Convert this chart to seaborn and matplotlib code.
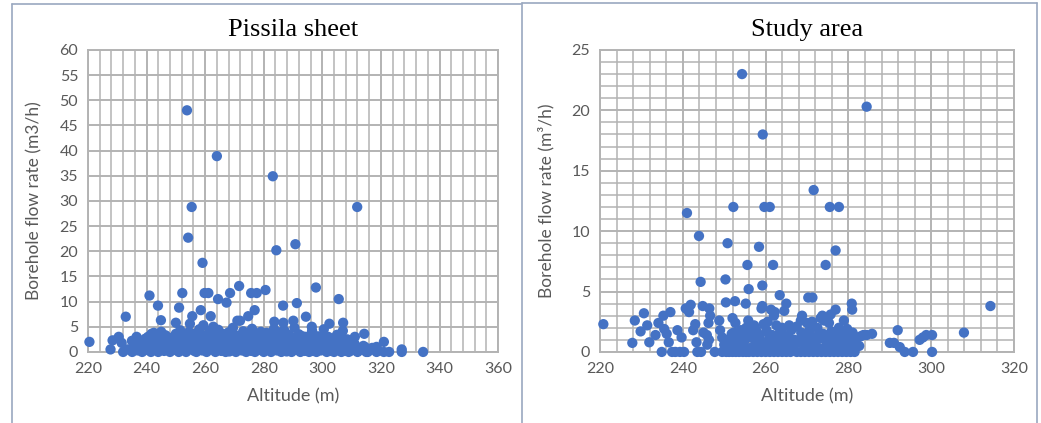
import numpy as np
import pandas as pd
import matplotlib
matplotlib.use("Agg")
import matplotlib.pyplot as plt
from matplotlib.lines import Line2D
from matplotlib.ticker import MultipleLocator
import seaborn as sns

sns.set_theme(style="white")
plt.rcParams['font.family'] = ['Lato', 'DejaVu Sans']

# ----------------------------
# Data: Pissila sheet (altitude m, flow rate m3/h)
# ----------------------------
pis_outlier_x = [253.8, 264.0, 283.1, 255.4, 311.9, 254.2, 290.8, 284.3, 259.1, 271.6,
                 297.8, 280.6, 252.2, 259.8, 261.1, 268.5, 275.7, 277.6, 241.0, 305.6,
                 264.4, 267.3, 291.3, 243.9, 286.6, 251.1, 258.5, 276.9, 232.9, 255.6,
                 261.9, 274.7, 294.4, 244.9, 271.0, 271.9, 290.1, 250.0, 283.6, 286.7,
                 307.1, 302.4, 296.4, 254.8, 259.4, 262.8, 314.3, 311.1, 321.0, 327.1,
                 327.1, 334.4, 322.8, 321.0, 318.5, 318.5, 314.5, 315.5, 220.5, 227.7,
                 228.4, 230.5, 232.0, 235.1, 236.6, 235.0, 238.5, 241.7, 231.5, 233.5]
pis_outlier_y = [48.0, 38.9, 34.9, 28.8, 28.8, 22.7, 21.4, 20.2, 17.7, 13.1,
                 12.8, 12.3, 11.7, 11.7, 11.7, 11.7, 11.7, 11.7, 11.2, 10.5,
                 10.5, 9.8, 9.7, 9.2, 9.2, 8.8, 8.3, 8.3, 7.0, 7.1,
                 7.1, 7.1, 7.0, 6.3, 6.2, 6.2, 6.2, 5.8, 6.0, 5.8,
                 5.8, 5.6, 5.0, 5.6, 5.3, 5.0, 3.6, 3.0, 2.0, 0.5,
                 0.0, 0.0, 0.0, 0.0, 0.0, 1.0, 1.0, 0.0, 2.0, 0.5,
                 2.3, 3.0, 0.0, 0.0, 3.0, 2.2, 1.0, 3.6, 1.8, 0.5]

pis_cluster_x = [236, 237, 237.5, 238, 238.5, 239, 239.5, 240, 240.5, 241, 241.5, 242, 242.5,
                 243, 243.5, 244, 244.5, 245, 245.5, 246, 246.5, 247, 247.5, 248, 248.5, 249,
                 249.5, 250, 250.5, 251, 251.5, 252, 252.5, 253, 253.5, 254, 254.5, 255, 255.5,
                 256, 256.5, 257, 257.5, 258, 258.5, 259, 259.5, 260, 260.5, 261, 261.5, 262,
                 262.5, 263, 263.5, 264, 264.5, 265, 265.5, 266, 266.5, 267, 267.5, 268, 268.5,
                 269, 269.5, 270, 270.5, 271, 271.5, 272, 272.5, 273, 273.5, 274, 274.5, 275,
                 275.5, 276, 276.5, 277, 277.5, 278, 278.5, 279, 279.5, 280, 280.5, 281, 281.5,
                 282, 282.5, 283, 283.5, 284, 284.5, 285, 285.5, 286, 286.5, 287, 287.5, 288,
                 288.5, 289, 289.5, 290, 290.5, 291, 291.5, 292, 292.5, 293, 293.5, 294, 294.5,
                 295, 295.5, 296, 296.5, 297, 297.5, 298, 298.5, 299, 299.5, 300, 300.5, 301,
                 301.5, 302, 302.5, 303, 303.5, 304, 304.5, 305, 305.5, 306, 306.5, 307, 307.5,
                 308, 308.5, 309, 309.5, 310, 311, 312, 313, 314, 315, 316, 317, 319,
                 248.7, 250.2, 251.8, 253.3, 254.8, 256.3, 257.8, 259.2, 260.8, 262.3, 263.8,
                 265.2, 266.8, 268.3, 269.8, 271.2, 272.8, 274.3, 275.8, 277.2, 278.8, 280.3,
                 281.8, 283.2, 284.8, 286.2, 287.8, 289.2, 290.8, 292.2, 293.8, 295.2, 296.8,
                 298.2, 299.8, 301.2, 302.8, 304.2, 305.8, 307.2,
                 240.2, 242.8, 245.3, 247.2, 249.7, 251.4, 253.9, 256.6, 258.9, 261.4, 263.6,
                 266.1, 268.7, 270.9, 273.2, 275.4, 277.9, 280.7, 282.9, 285.4, 287.6, 290.3,
                 292.7, 295.8, 297.4, 300.1, 302.2, 304.7, 306.9, 309.2,
                 244.1, 246.8, 249.2, 252.6, 255.2, 257.4, 260.1, 262.8, 265.6, 267.9, 270.3,
                 272.2, 274.8, 276.7, 279.2, 281.2, 284.2, 286.8, 289.6, 291.8, 294.2, 296.2,
                 299.1, 301.8, 303.9,
                 246.0, 247.9, 250.9, 252.9, 254.1, 256.9, 258.1, 260.3, 262.1, 264.3, 265.9,
                 267.1, 269.3, 271.7, 273.7, 275.1, 276.3, 278.3, 279.8, 281.3, 283.8, 285.7,
                 287.2, 288.8, 290.6, 293.3, 294.8, 296.6, 298.7, 300.7, 303.2, 305.3, 308.2,
                 241.2, 243.2, 310.7, 312.3, 313.6]
pis_cluster_y = [1.2, 0.3, 2.0, 0.8, 0.0, 1.5, 2.6, 0.4, 3.0, 1.0, 0.0, 2.2, 3.8,
                 0.6, 1.7, 0.0, 2.8, 4.0, 1.2, 0.2, 3.3, 2.0, 0.7, 0.0, 1.5, 2.9,
                 0.4, 3.6, 1.8, 0.0, 4.3, 2.5, 0.9, 3.1, 0.0, 1.6, 4.0, 2.2, 0.5,
                 3.4, 1.1, 0.0, 2.7, 4.5, 1.9, 0.3, 3.0, 1.4, 0.0, 2.4, 4.2, 0.8,
                 3.3, 1.7, 0.0, 2.9, 4.4, 1.0, 0.2, 3.6, 2.1, 0.0, 1.3, 3.9, 2.6,
                 0.5, 4.8, 1.8, 0.0, 3.2, 1.0, 2.4, 0.3, 4.1, 1.6, 0.0, 3.0, 2.0,
                 0.7, 4.6, 1.4, 0.0, 3.5, 2.3, 0.4, 4.0, 1.2, 0.0, 2.8, 3.8, 0.9,
                 1.9, 0.0, 3.2, 4.6, 1.5, 0.3, 2.6, 3.9, 0.0, 1.7, 4.3, 2.2, 0.6,
                 3.4, 1.1, 0.0, 2.8, 4.8, 0.4, 1.9, 3.5, 0.0, 2.3, 1.0, 0.2, 3.0,
                 1.6, 0.0, 2.5, 4.2, 0.7, 1.9, 0.0, 3.1, 1.3, 0.3, 2.4, 4.5, 1.0,
                 0.0, 3.0, 1.8, 0.5, 2.6, 0.0, 1.4, 3.4, 0.4, 2.0, 0.0, 4.2, 1.2,
                 0.2, 2.5, 0.0, 1.0, 0.3, 1.6, 0.0, 0.6, 1.2, 0.0, 0.3, 0.8, 0.2,
                 2.3, 0.9, 2.0, 0.6, 3.0, 0.2, 1.6, 2.2, 0.8, 2.0, 0.5,
                 2.5, 1.2, 0.1, 2.7, 0.6, 1.5, 2.2, 0.2, 2.0, 1.0, 1.6,
                 2.9, 0.5, 1.3, 2.6, 0.1, 2.1, 1.2, 0.8, 2.5, 1.0, 0.2,
                 2.0, 0.9, 2.5, 0.2, 1.9, 0.8, 1.5,
                 2.0, 1.3, 2.4, 1.6, 2.1, 1.4, 2.6, 1.9, 2.8, 1.5, 2.3,
                 1.7, 2.9, 1.1, 2.5, 1.8, 2.7, 1.3, 2.2, 1.9, 2.8, 1.6,
                 2.1, 1.4, 2.6, 1.2, 2.0, 1.5, 2.4, 1.1,
                 0.9, 0.5, 1.1, 0.4, 1.0, 0.6, 0.9, 0.5, 1.2, 0.4, 1.0,
                 0.7, 1.1, 0.5, 0.8, 0.6, 1.0, 0.4, 1.2, 0.6, 0.9, 0.5,
                 0.7, 1.0, 0.6,
                 3.2, 2.6, 3.0, 3.5, 2.8, 3.7, 2.4, 3.3, 2.9, 3.6, 2.5,
                 3.1, 3.8, 2.7, 3.4, 2.9, 3.9, 2.6, 3.3, 3.0, 2.4, 3.5,
                 2.8, 3.2, 2.5, 3.1, 2.7, 3.6, 2.3, 3.0, 2.6, 2.2, 1.8,
                 2.2, 1.0, 0.8, 0.2, 0.9]

# ----------------------------
# Data: Study area
# ----------------------------
std_x = [254.3, 284.4, 259.3, 271.6, 252.2, 259.7, 261.0, 275.5, 277.7, 241.0,
         243.9, 250.8, 258.4, 276.9, 255.6, 261.8, 274.5, 244.3, 250.3, 255.9,
         259.2, 263.4, 270.3, 271.3, 250.4, 252.6, 255.2, 265.0, 280.8, 314.3,
         307.9, 300.2, 300.2, 295.6, 293.6, 291.9, 290.0, 291.0, 292.4, 297.2,
         298.0, 298.8, 285.7, 284.4, 220.8, 227.8, 228.4, 229.8, 230.6, 231.4,
         231.9, 233.4, 234.1, 234.9, 235.3, 235.5, 236.1, 236.6, 237.0, 237.4,
         238.2, 239.3, 240.3, 238.7, 239.7, 240.7, 241.9, 241.5, 242.5, 243.0,
         243.3, 243.5, 244.4, 244.8, 246.4, 245.0, 245.8, 246.2, 246.6, 246.3,
         245.9, 247.7, 248.8, 249.0,
         249.5, 250.5, 251.2, 252.0, 252.8, 253.6, 254.5, 255.3, 256.0, 257.0,
         258.0, 259.0, 260.0, 261.0, 262.0, 263.0, 264.0, 265.0, 266.0, 267.5,
         268.5, 269.5, 270.5, 271.5, 272.5, 273.5, 274.5, 275.5, 276.5, 277.5,
         278.5, 279.5, 280.5, 281.5,
         249.5, 250.0, 250.8, 251.3, 251.8, 252.0, 252.4, 252.7, 253.0, 253.5,
         254.0, 254.5, 255.0, 255.3, 255.8, 256.2, 256.8, 257.2, 257.8, 258.2,
         258.6, 259.0, 259.2, 259.5, 259.8, 260.2, 260.5, 261.0, 261.3, 261.6,
         262.0, 262.2, 262.6, 263.0, 263.4, 264.0, 264.5, 264.9, 265.3, 265.7,
         266.2, 266.6, 267.0, 267.5, 268.0, 268.5, 268.8, 269.2, 269.6, 270.0,
         270.4, 270.8, 271.2, 271.6, 272.0, 272.5, 272.9, 273.3, 273.7, 274.1,
         274.5, 274.9, 275.3, 275.7, 276.1, 276.5, 276.9, 277.3, 277.7, 278.1,
         278.5, 278.9, 279.3, 279.7, 280.1, 280.5, 280.9, 281.3, 281.7, 282.1,
         282.6, 283.0, 283.6,
         251.0, 253.2, 255.6, 257.5, 260.6, 263.7, 266.8, 269.9, 273.0, 276.0,
         279.0, 254.2, 258.8, 262.4, 267.2, 271.9, 277.0,
         250.1, 251.6, 253.1, 254.7, 256.5, 257.9, 259.6, 261.2, 262.9, 264.6,
         266.4, 268.2, 269.8, 271.4, 273.1, 274.8, 276.6, 278.3, 280.0, 281.9,
         252.3, 255.0, 257.7, 260.9, 263.9, 265.4, 268.6, 270.6, 273.9, 275.9,
         278.8, 281.0]
std_y = [23.0, 20.3, 18.0, 13.4, 12.0, 12.0, 12.0, 12.0, 12.0, 11.5,
         9.6, 9.0, 8.7, 8.4, 7.2, 7.2, 7.2, 5.8, 6.0, 5.2,
         5.5, 4.7, 4.5, 4.5, 4.1, 4.2, 4.0, 4.0, 4.0, 3.8,
         1.6, 1.4, 0.0, 0.0, 0.0, 1.8, 0.75, 0.75, 0.4, 1.0,
         1.2, 1.4, 1.5, 1.4, 2.3, 0.75, 2.6, 1.7, 3.2, 2.2,
         0.8, 1.4, 2.4, 0.0, 3.0, 1.9, 1.5, 0.8, 3.3, 0.0,
         0.0, 0.0, 0.0, 1.8, 1.2, 3.6, 3.9, 3.3, 1.8, 2.3,
         0.8, 0.0, 0.0, 3.8, 3.6, 1.6, 1.4, 2.4, 3.0, 1.0,
         0.6, 0.0, 2.6, 1.8,
         0.0, 0.0, 0.0, 0.0, 0.0, 0.0, 0.0, 0.0, 0.0, 0.0,
         0.0, 0.0, 0.0, 0.0, 0.0, 0.0, 0.0, 0.0, 0.0, 0.0,
         0.0, 0.0, 0.0, 0.0, 0.0, 0.0, 0.0, 0.0, 0.0, 0.0,
         0.0, 0.0, 0.0, 0.0,
         1.2, 0.6, 1.0, 0.4, 1.5, 2.8, 0.8, 2.4, 1.2, 0.3,
         1.8, 0.6, 1.0, 2.0, 2.6, 1.6, 0.4, 2.2, 1.0, 0.3,
         1.4, 3.6, 3.8, 2.3, 0.8, 1.8, 2.5, 0.5, 3.5, 1.4,
         3.0, 3.3, 2.2, 0.9, 1.6, 2.0, 3.4, 0.5, 1.2, 2.2,
         1.8, 0.3, 1.0, 2.1, 0.8, 2.6, 3.0, 1.5, 0.4, 2.4,
         1.4, 0.8, 2.5, 1.2, 0.5, 2.0, 1.5, 2.8, 3.0, 2.6,
         0.4, 1.0, 2.4, 3.1, 0.7, 1.5, 3.5, 0.3, 2.0, 1.2,
         0.6, 2.6, 1.0, 1.9, 0.4, 1.5, 3.5, 0.8, 1.1, 1.2,
         0.5, 1.3, 1.4,
         0.3, 0.7, 0.2, 0.6, 0.3, 0.5, 0.2, 0.6, 0.3, 0.5,
         0.2, 1.1, 0.9, 1.3, 0.9, 1.1, 0.8,
         0.9, 0.6, 1.0, 0.7, 1.2, 0.8, 0.5, 1.0, 0.7, 1.2,
         0.6, 1.0, 0.8, 0.5, 1.1, 0.7, 0.9, 0.5, 0.9, 0.6,
         1.6, 1.5, 1.8, 1.4, 1.7, 1.3, 1.6, 1.8, 1.5, 1.7,
         1.4, 1.6]

pis = pd.DataFrame({'Altitude': pis_outlier_x + pis_cluster_x,
                    'Flow': pis_outlier_y + pis_cluster_y})
std = pd.DataFrame({'Altitude': std_x, 'Flow': std_y})

BLUE = '#4472C4'
GRID = '#b3b3b3'
TXT = '#595959'

fig = plt.figure(figsize=(10.41, 4.23), dpi=100)
ax1 = fig.add_axes([0.0845, 0.168, 0.394, 0.714])
ax2 = fig.add_axes([0.5764, 0.168, 0.3977, 0.714])

sns.scatterplot(data=pis, x='Altitude', y='Flow', ax=ax1, color=BLUE,
                s=55, edgecolor='none', zorder=3, clip_on=False)
sns.scatterplot(data=std, x='Altitude', y='Flow', ax=ax2, color=BLUE,
                s=55, edgecolor='none', zorder=3, clip_on=False)

# ----------------------------
# Axes styling
# ----------------------------
def style(ax, xlim, ylim, ymaj, ymin, title, ylabel):
    ax.set_xlim(*xlim)
    ax.set_ylim(*ylim)
    ax.xaxis.set_major_locator(MultipleLocator(20))
    ax.xaxis.set_minor_locator(MultipleLocator(4))
    ax.yaxis.set_major_locator(MultipleLocator(ymaj))
    if ymin:
        ax.yaxis.set_minor_locator(MultipleLocator(ymin))
        ax.grid(True, which='minor', axis='y', color=GRID, lw=1.1)
    ax.grid(True, which='major', color=GRID, lw=1.4)
    ax.grid(True, which='minor', axis='x', color=GRID, lw=1.1)
    ax.set_axisbelow(True)
    for sp in ax.spines.values():
        sp.set_color(GRID)
        sp.set_linewidth(1.4)
    ax.tick_params(which='both', length=0, labelsize=11.5, colors=TXT, pad=7)
    ax.set_title(title, family='Liberation Serif', fontsize=19, color='black', pad=10)
    ax.set_xlabel('Altitude (m)', fontsize=13, color=TXT, labelpad=9)
    ax.set_ylabel(ylabel, fontsize=12.5, color=TXT, labelpad=12)

style(ax1, (220, 360), (0, 60), 5, None, 'Pissila sheet', 'Borehole flow rate (m3/h)')
style(ax2, (220, 320), (0, 25), 5, 1, 'Study area', 'Borehole flow rate (m³/h)')

# panel frames
FRAME = '#9aa8c0'
W, H = 1041, 423
def fline(x0, y0, x1, y1):
    fig.add_artist(Line2D([x0 / W, x1 / W], [1 - y0 / H, 1 - y1 / H],
                          color=FRAME, lw=1.2, transform=fig.transFigure))

fline(12, 4, 12, 423)
fline(12, 4, 521, 4)
fline(522, 3, 522, 423)
fline(522, 3, 1037, 3)
fline(1037, 3, 1037, 423)

fig.savefig('out.png', dpi=100, facecolor='white')
